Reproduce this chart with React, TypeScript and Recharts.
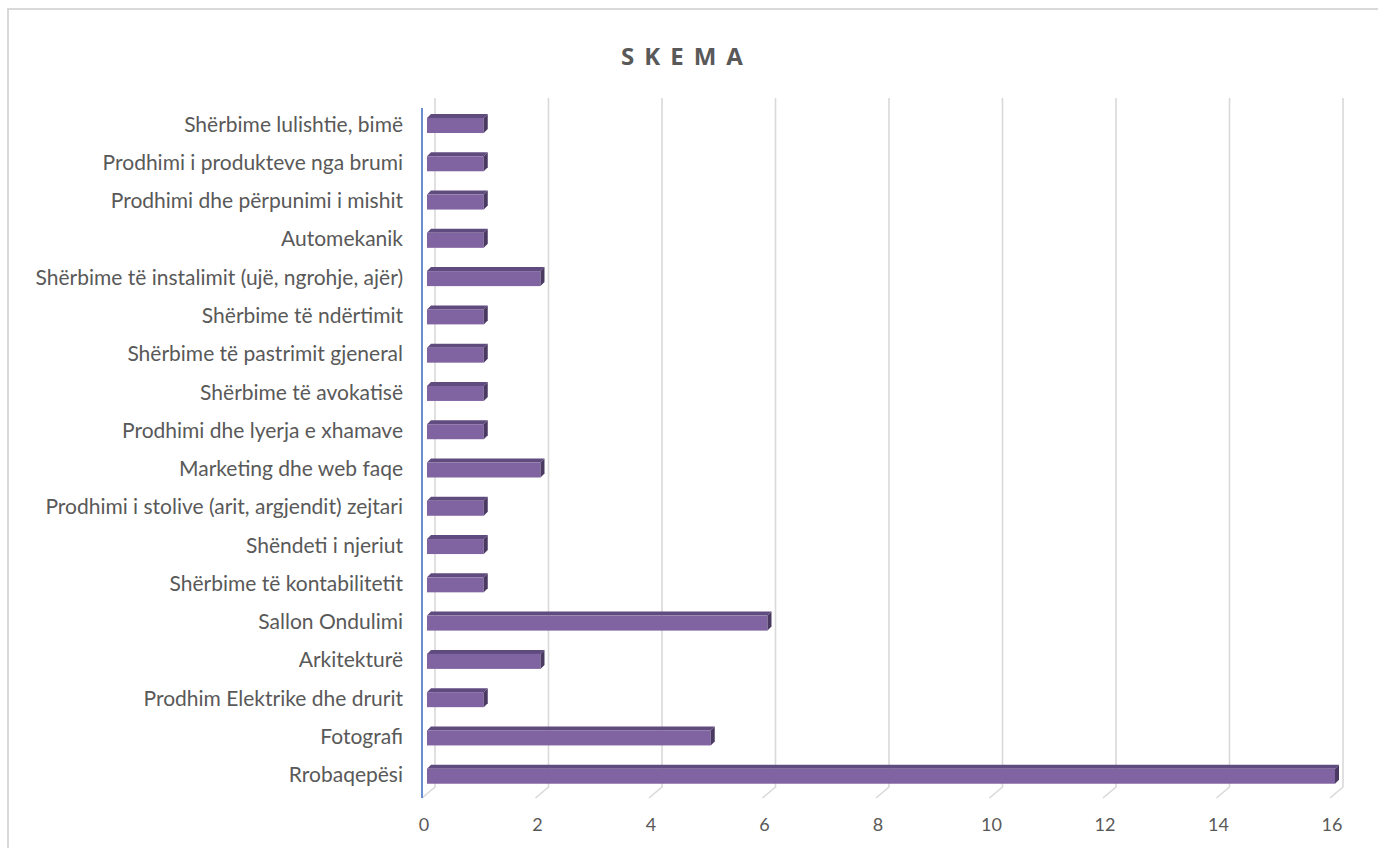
import React from "react"
import { BarChart, Bar, XAxis, YAxis, CartesianGrid } from "recharts"

const categories = [
  "Shërbime lulishtie, bimë ",
  "Prodhimi i produkteve nga brumi",
  "Prodhimi dhe përpunimi i mishit",
  "Automekanik",
  "Shërbime të instalimit (ujë, ngrohje, ajër)",
  "Shërbime të ndërtimit",
  "Shërbime të pastrimit gjeneral",
  "Shërbime të avokatisë",
  "Prodhimi dhe lyerja e xhamave",
  "Marketing dhe web faqe",
  "Prodhimi i stolive (arit, argjendit) zejtari",
  "Shëndeti i njeriut",
  "Shërbime të kontabilitetit",
  "Sallon Ondulimi",
  "Arkitekturë",
  "Prodhim Elektrike dhe drurit",
  "Fotografi",
  "Rrobaqepësi",
]

const values = [1, 1, 1, 1, 2, 1, 1, 1, 1, 2, 1, 1, 1, 6, 2, 1, 5, 16]

const xTicks = [0, 2, 4, 6, 8, 10, 12, 14, 16]

const data = categories.map((name, i) => ({ name, value: values[i] }))

const FONT = "Lato, 'Open Sans', sans-serif"

// 3D look: front face + darker top and side
function Bar3D(props: any) {
  const { x, y, width, height } = props
  if (width == null || height == null) return null
  const d = 4
  const ox = x + 5
  const fy = y + d
  const fh = height - d
  return (
    <g>
      <polygon
        points={`${ox},${fy} ${ox + d},${y} ${ox + width + d},${y} ${ox + width},${fy}`}
        fill="#604B7F"
      />
      <rect x={ox} y={fy} width={width} height={fh} fill="#8064A2" />
      <polygon
        points={`${ox + width},${fy} ${ox + width + d},${y} ${ox + width + d},${y + fh} ${ox + width},${fy + fh}`}
        fill="#4A3A62"
      />
    </g>
  )
}

function gridLine(props: any) {
  const { x1, y1, y2, index } = props
  return (
    <g key={`grid-${index}`}>
      <path
        d={`M${x1 + 13},${y1 - 6} L${x1 + 13},${y2 - 6} L${x1},${y2 + 5}`}
        stroke="#d9d9d9"
        strokeWidth={1.6}
        fill="none"
      />
      {index === 0 && (
        <line x1={x1} y1={y1 + 4} x2={x1} y2={y2 + 5} stroke="#4472C4" strokeWidth={1.6} />
      )}
    </g>
  )
}

export default function App() {
  return (
    <div
      style={{
        position: "fixed",
        left: 0,
        top: 0,
        width: 1378,
        height: 848,
        overflow: "hidden",
        background: "#fff",
      }}
    >
      <div
        style={{
          position: "absolute",
          left: 7,
          top: 8,
          width: 1420,
          height: 900,
          border: "2px solid #d9d9d9",
        }}
      />
      <div
        style={{
          position: "absolute",
          left: 477,
          top: 40,
          width: 400,
          textAlign: "center",
          fontFamily: "'Open Sans', sans-serif",
          fontWeight: 700,
          fontSize: 24,
          letterSpacing: 10,
          color: "#595959",
          lineHeight: "32px",
          paddingLeft: 10,
        }}
      >
        SKEMA
      </div>
      <div style={{ position: "absolute", left: 8, top: 8 }}>
        <BarChart
          width={1362}
          height={840}
          data={data}
          layout="vertical"
          margin={{ top: 96, right: 40, bottom: 0, left: 0 }}
        >
          <CartesianGrid horizontal={false} vertical={gridLine} />
          <XAxis
            type="number"
            domain={[0, 16]}
            ticks={xTicks}
            interval={0}
            axisLine={false}
            tickLine={false}
            height={55}
            tickMargin={19}
            tick={{ fontSize: 18, fontFamily: FONT, fill: "#595959", dx: 2 }}
          />
          <YAxis
            type="category"
            dataKey="name"
            width={414}
            axisLine={false}
            tickLine={false}
            tickMargin={13}
            interval={0}
            tick={{ fontSize: 21, fontFamily: FONT, fill: "#595959", dy: 1 }}
          />
          <Bar dataKey="value" barSize={19} shape={Bar3D} isAnimationActive={false} />
        </BarChart>
      </div>
    </div>
  )
}
